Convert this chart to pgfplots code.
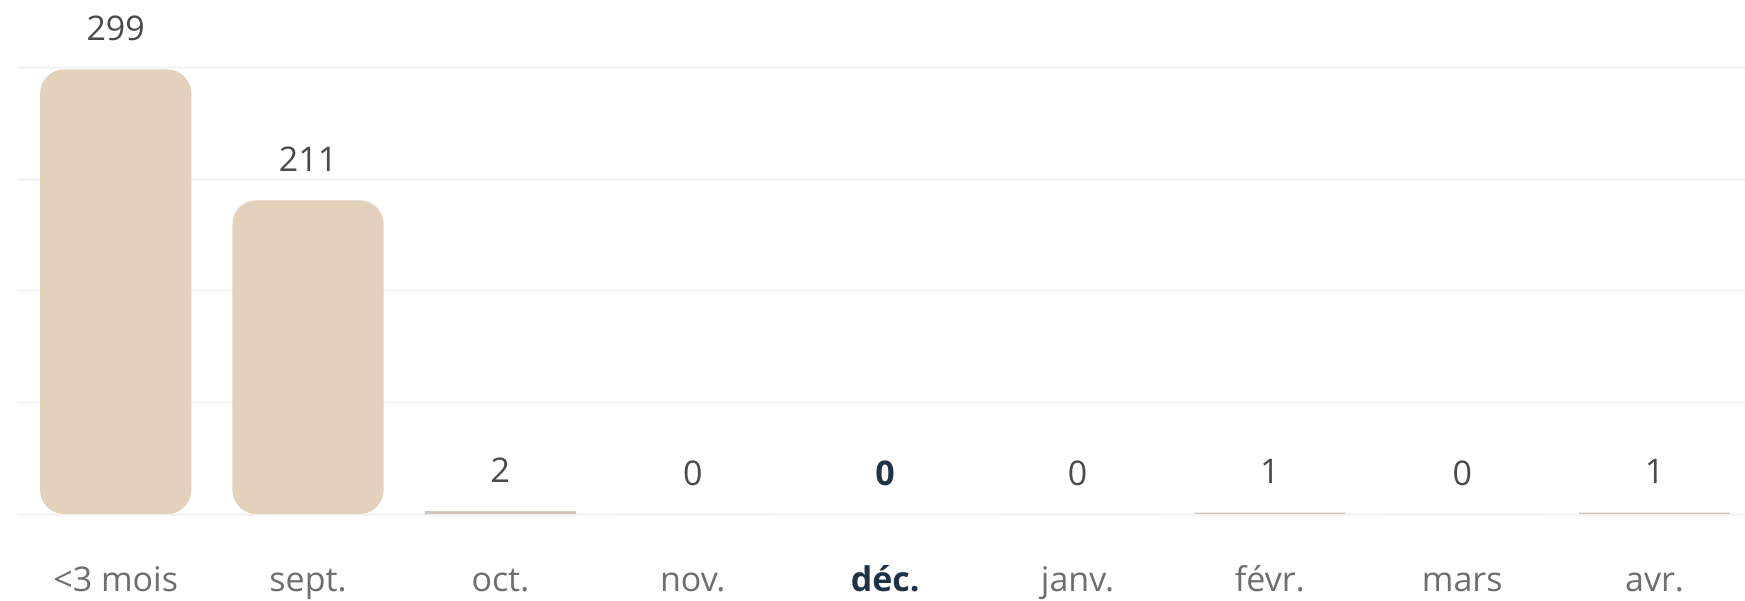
\documentclass[border=0pt]{standalone}
\usepackage{pgfplots}
\pgfplotsset{compat=1.18}
\usepackage{fontspec}
\setmainfont{Open Sans}
\definecolor{barcol}{HTML}{E3D1BB}
\definecolor{thincol}{HTML}{D0C7BE}
\definecolor{gridcol}{HTML}{F5F5F5}
\definecolor{valcol}{HTML}{4A4A4A}
\definecolor{tickcol}{HTML}{6E6E6E}
\definecolor{navy}{HTML}{1E3347}
\begin{document}
\begin{tikzpicture}
\useasboundingbox (0,0) rectangle (872.5pt,300pt);
\begin{axis}[
  at={(8.5pt,43pt)}, anchor=south west,
  scale only axis, width=864pt, height=223pt,
  xmin=-0.513, xmax=8.47, ymin=0, ymax=300,
  clip=false,
  axis lines=none,
  ybar, bar width=0.786,
  xtick=\empty, ytick=\empty,
  /pgf/number format/assume math mode=true,
  nodes near coords,
  every node near coord/.append style={anchor=base, yshift=14.5pt, font=\fontsize{17}{20}\selectfont, text=valcol},
]
\pgfplotsinvokeforeach{0,75,150,225,300}{
  \draw[gridcol, line width=1.5pt] (axis cs:-0.513,#1) -- (axis cs:8.47,#1);
}
\addplot[fill=barcol, draw=none, bar shift=0pt, rounded corners=12pt] coordinates {(0,299) (1,211)};
\addplot[fill=thincol, draw=none, bar shift=0pt] coordinates {(2,2) (3,0) (5,0) (6,1) (7,0) (8,1)};
\addplot[fill=none, draw=none, bar shift=0pt,
  every node near coord/.append style={text=navy, font=\fontsize{17}{20}\selectfont\bfseries}] coordinates {(4,0)};
\end{axis}
\begin{axis}[
  at={(8.5pt,43pt)}, anchor=south west,
  scale only axis, width=864pt, height=223pt,
  xmin=-0.513, xmax=8.47, ymin=0, ymax=300,
  axis line style={draw=none}, ytick=\empty,
  xtick={0,...,8}, major tick length=0pt,
  xticklabels={{<3 mois},{sept.},{oct.},{nov.},{\bfseries\color{navy}déc.},{janv.},{févr.},{mars},{avr.}},
  xticklabel style={anchor=base, yshift=-38.5pt, font=\fontsize{17}{20}\selectfont, text=tickcol},
]
\end{axis}
\end{tikzpicture}
\end{document}
